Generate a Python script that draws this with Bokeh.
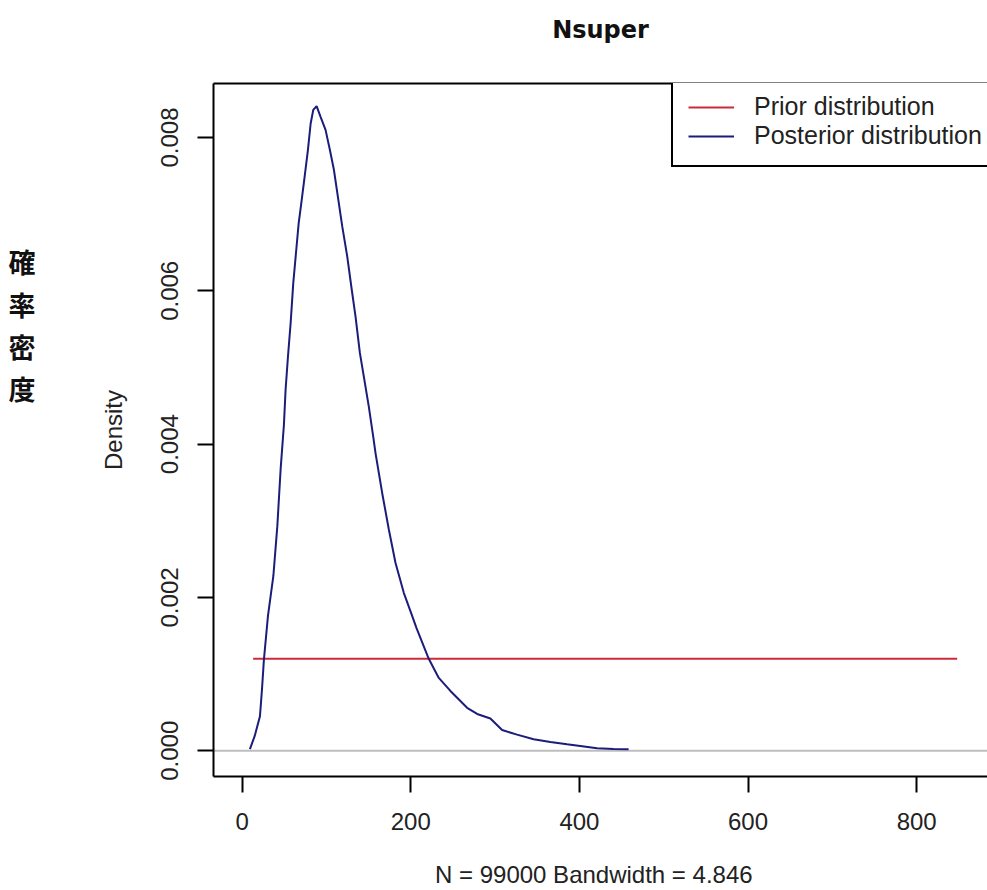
from bokeh.plotting import figure
from bokeh.models import (Range1d, FixedTicker, PrintfTickFormatter, LinearAxis,
                          Span, Legend, LegendItem)
from bokeh.embed import file_html
from bokeh.resources import INLINE

# ---- data ----
post_x = [9.2, 14.8, 21.1, 23.5, 25.8, 30.6, 37.0, 41.7, 45.6, 49.5, 51.5, 54.3, 57.5,
          60.6, 63.8, 67.0, 70.1, 74.1, 78.0, 81.2, 84.3, 88.3, 93.0, 98.9, 104.0,
          108.8, 113.5, 118.7, 124.6, 129.4, 134.5, 139.6, 144.3, 150.2, 155.4, 158.2,
          166.1, 173.9, 181.9, 191.7, 201.6, 206.8, 221.3, 233.2, 247.0, 266.8, 278.7,
          294.4, 308.3, 326.0, 345.7, 365.5, 385.3, 401.0, 420.9, 440.5, 458.3]
post_y = [0.00002, 0.00019, 0.00045, 0.00080, 0.00119, 0.00176, 0.00228, 0.00293,
          0.00367, 0.00425, 0.00471, 0.00514, 0.00558, 0.00610, 0.00649, 0.00688,
          0.00714, 0.00749, 0.00784, 0.00818, 0.00836, 0.00841, 0.00827, 0.00810,
          0.00784, 0.00758, 0.00723, 0.00684, 0.00645, 0.00606, 0.00566, 0.00519,
          0.00488, 0.00449, 0.00410, 0.00388, 0.00336, 0.00289, 0.00245, 0.00206,
          0.00176, 0.00160, 0.00120, 0.00095, 0.00078, 0.00056, 0.00048, 0.00042,
          0.00027, 0.00021, 0.00015, 0.000115, 0.000085, 0.000063, 0.000033,
          0.000024, 0.00002]
prior_x = [13, 848]
prior_y = [0.0012, 0.0012]
x_ticks = [0, 200, 400, 600, 800]
y_ticks = [0.0, 0.002, 0.004, 0.006, 0.008]
title_text = "Nsuper"
x_label = "N = 99000   Bandwidth = 4.846"
y_label = "Density"
cjk_chars = ["確", "率", "密", "度"]
legend_labels = ["Prior distribution", "Posterior distribution"]

FONT = "Liberation Sans"
PRIOR_COLOR = "#cc2b3b"
POST_COLOR = "#1c1c7a"

p = figure(width=987, height=890, output_backend="svg", toolbar_location=None,
           x_range=Range1d(-34, 884), y_range=Range1d(-0.000336, 0.008705),
           min_border_left=213, min_border_right=0, min_border_top=83,
           min_border_bottom=113, x_axis_location=None, y_axis_location=None)
p.grid.visible = False
p.outline_line_color = None
p.background_fill_color = "white"
p.border_fill_color = "white"

def style_axis(ax):
    ax.axis_line_color = "black"
    ax.axis_line_width = 2
    ax.major_tick_line_color = "black"
    ax.major_tick_line_width = 2
    ax.major_tick_out = 16
    ax.major_tick_in = 0
    ax.minor_tick_line_color = None
    ax.major_label_text_font = FONT
    ax.major_label_text_font_size = "24px"
    ax.major_label_text_color = "#222222"
    ax.axis_label_text_font = FONT
    ax.axis_label_text_font_size = "24px"
    ax.axis_label_text_font_style = "normal"
    ax.axis_label_text_color = "#222222"

xaxis = LinearAxis(ticker=FixedTicker(ticks=x_ticks), axis_label=x_label)
style_axis(xaxis)
xaxis.major_label_standoff = 20
xaxis.axis_label_standoff = 28
p.add_layout(xaxis, "below")

yaxis = LinearAxis(ticker=FixedTicker(ticks=y_ticks),
                   formatter=PrintfTickFormatter(format="%.3f"), axis_label=y_label)
style_axis(yaxis)
yaxis.major_label_orientation = "vertical"
yaxis.major_label_standoff = 19
yaxis.axis_label_standoff = 32
p.add_layout(yaxis, "left")

# outer vertical label "確率密度", one character per row
p.extra_y_ranges = {"cjk": Range1d(start=12.21, end=-4.235)}
cjk_axis = LinearAxis(y_range_name="cjk", ticker=FixedTicker(ticks=[0, 1, 2, 3]),
                      major_label_overrides={i: c for i, c in enumerate(cjk_chars)})
cjk_axis.axis_line_color = None
cjk_axis.major_tick_line_color = None
cjk_axis.minor_tick_line_color = None
cjk_axis.major_tick_out = 0
cjk_axis.major_tick_in = 0
cjk_axis.major_label_standoff = 61
cjk_axis.major_label_text_font = "Noto Sans CJK JP"
cjk_axis.major_label_text_font_style = "bold"
cjk_axis.major_label_text_font_size = "27px"
cjk_axis.major_label_text_color = "#111111"
p.add_layout(cjk_axis, "left")

# top border of the box, carrying the bold main title
top = LinearAxis(ticker=FixedTicker(ticks=[]), axis_label=title_text)
top.axis_line_color = "black"
top.axis_line_width = 2
top.major_tick_line_color = None
top.minor_tick_line_color = None
top.major_tick_out = 0
top.major_tick_in = 0
top.major_label_standoff = 0
top.major_label_text_font_size = "0px"
top.axis_label_text_font = "DejaVu Sans"
top.axis_label_text_font_style = "bold"
top.axis_label_text_font_size = "24px"
top.axis_label_text_color = "#111111"
top.axis_label_standoff = 40
p.add_layout(top, "above")

zero = Span(location=0, dimension="width", line_color="#bebebe", line_width=2,
            level="underlay")
p.add_layout(zero)

r_prior = p.line(prior_x, prior_y, line_color=PRIOR_COLOR, line_width=2)
r_post = p.line(post_x, post_y, line_color=POST_COLOR, line_width=2)

legend = Legend(items=[LegendItem(label=legend_labels[0], renderers=[r_prior]),
                       LegendItem(label=legend_labels[1], renderers=[r_post])],
                location=(458, 609), margin=0, padding=15, spacing=0,
                glyph_width=46, glyph_height=28, label_height=28, label_standoff=20,
                label_text_font=FONT, label_text_font_size="25px",
                label_text_color="#222222", border_line_color="black",
                border_line_alpha=1.0, border_line_width=2,
                background_fill_color="white", background_fill_alpha=1.0)
p.add_layout(legend)

open("out.html", "w").write(file_html(p, INLINE))
